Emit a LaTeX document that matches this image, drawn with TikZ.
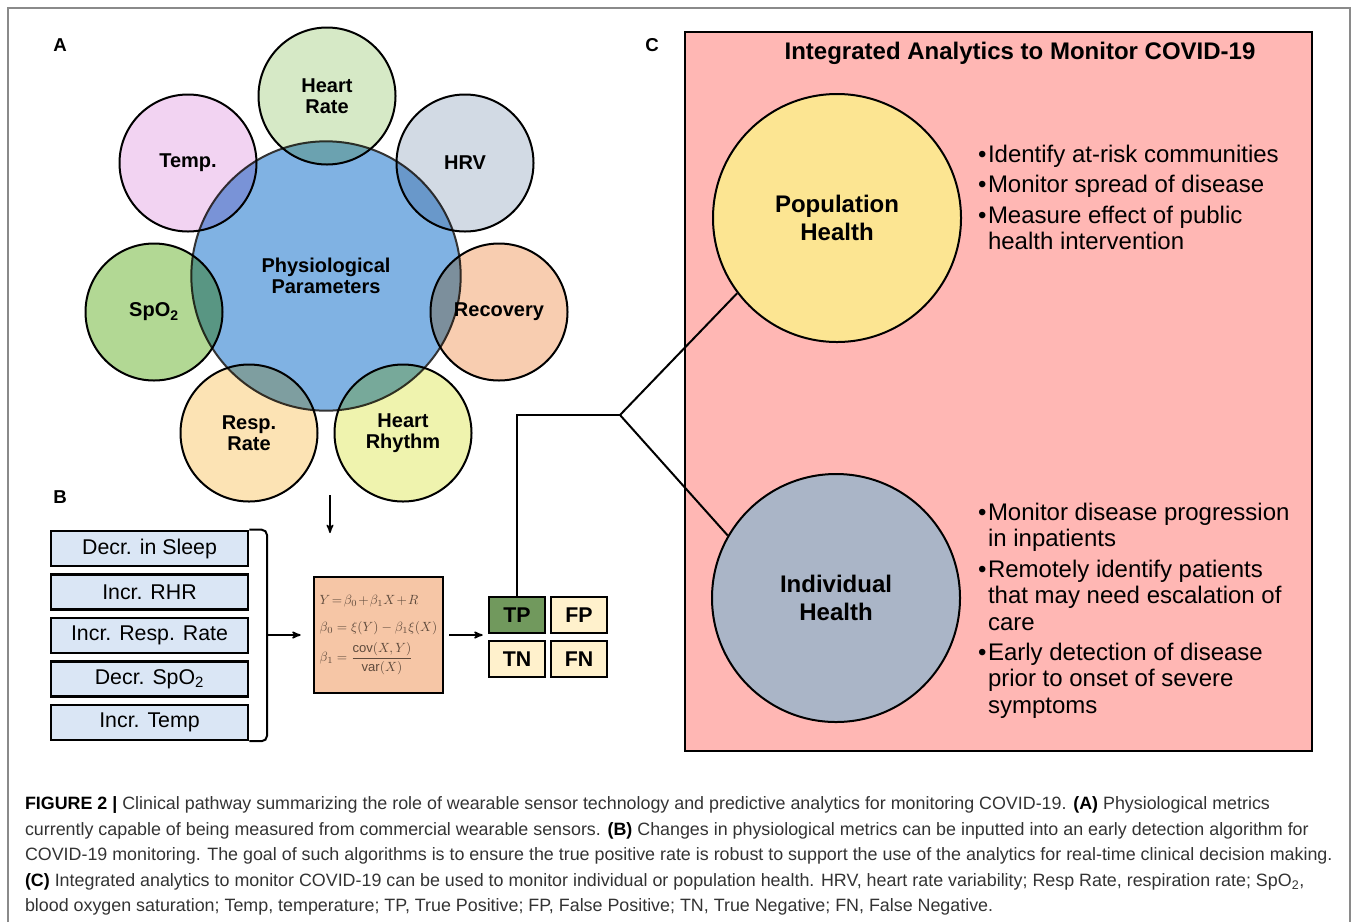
\documentclass[tikz,border=0pt]{standalone}
\usepackage{amsmath, amssymb}
\usepackage{fontspec}
\setmainfont{Liberation Sans}
\usetikzlibrary{arrows, positioning}

\definecolor{physblue}{HTML}{80B2E3}
\definecolor{hrgreen}{HTML}{D6E9C6}
\definecolor{temppink}{HTML}{F2D3F2}
\definecolor{hrvgray}{HTML}{D2DAE4}
\definecolor{spogreen}{HTML}{B2D894}
\definecolor{recpeach}{HTML}{F8CDB0}
\definecolor{respyellow}{HTML}{FCE3B4}
\definecolor{rhythmlime}{HTML}{EFF3AE}
\definecolor{boxblue}{HTML}{DAE6F5}
\definecolor{formpeach}{HTML}{F6C6A6}
\definecolor{formtext}{HTML}{5E4A3C}
\definecolor{tpgreen}{HTML}{71995D}
\definecolor{cream}{HTML}{FFF1CC}
\definecolor{panelpink}{HTML}{FFB7B4}
\definecolor{popyellow}{HTML}{FCE592}
\definecolor{indgray}{HTML}{AAB5C7}
\definecolor{captext}{HTML}{333333}
\definecolor{framegray}{HTML}{8A8A8A}

\newcommand{\bitem}{\makebox[7.5pt][l]{\textbullet}}
\newcommand{\bindent}{\hspace*{7.5pt}}

\begin{document}
\begin{tikzpicture}[x=0.75pt, y=-0.75pt, >=stealth', line width=1.5pt,
    param/.style ={circle, draw=black, minimum size=102.75pt, inner sep=0pt,
      align=center, font=\fontsize{15}{15.75}\selectfont\bfseries},
    metric/.style ={rectangle, draw=black, fill=boxblue, line width=2pt,
      minimum width=147.75pt, minimum height=26.25pt, inner sep=0pt,
      font=\fontsize{16}{16}\selectfont},
    outcome/.style ={rectangle, draw=black, line width=2pt, fill=cream,
      minimum width=42pt, minimum height=27pt, inner sep=0pt,
      font=\fontsize{16}{16}\selectfont\bfseries},
    health/.style ={circle, draw=black, minimum size=186pt, inner sep=0pt,
      align=center, font=\fontsize{18}{21}\selectfont\bfseries},
    bullets/.style ={anchor=north west, align=left, inner sep=0pt,
      font=\fontsize{18}{19.8}\selectfont},
    panel/.style ={font=\fontsize{14}{14}\selectfont\bfseries}]
    \useasboundingbox (0,0) rectangle (1358,922);
    \draw[framegray, line width=1.2pt] (8,922) -- (8,8) -- (1350,8) -- (1350,922);

    % A: physiological parameters
    \node[panel] (labA) at (60,45) {A};
    \node[circle, draw=black!80, fill=physblue, minimum size=202pt, align=center,
      font=\fontsize{15}{15.75}\selectfont\bfseries] (phys) at (326,276) {Physiological\\Parameters};
    \begin{scope}[blend mode=multiply]
    \node[param, fill=hrgreen] (hr) at (327,96) {Heart\\Rate};
    \node[param, fill=temppink] (temp) at (188,163) {Temp.};
    \node[param, fill=hrvgray] (hrv) at (465,163) {HRV};
    \node[param, fill=spogreen] (spo) at (154,312) {SpO\textsubscript{2}};
    \node[param, fill=recpeach] (rec) at (499,312) {Recovery};
    \node[param, fill=respyellow] (resp) at (249,433) {Resp.\\Rate};
    \node[param, fill=rhythmlime] (rhythm) at (403,433) {Heart\\Rhythm};
    \end{scope}

    % B: detection algorithm
    \node[panel] (labB) at (60,497) {B};
    \node[metric] (sleep) at (149.5,548.5) {Decr. in Sleep};
    \node[metric, below=4.35pt of sleep] (rhr) {Incr. RHR};
    \node[metric, below=4.35pt of rhr] (rr) {Incr. Resp. Rate};
    \node[metric, below=4.35pt of rr] (spodrop) {Decr. SpO\textsubscript{2}};
    \node[metric, below=4.35pt of spodrop] (temprise) {Incr. Temp};
    \coordinate (brmid) at (267,635);
    \draw[rounded corners=4pt] (sleep.north east) -| (brmid) |- (temprise.south east);

    \node[rectangle, draw=black, fill=formpeach, line width=2pt, minimum width=96.75pt,
      minimum height=87pt, inner sep=2pt, text=formtext, align=left,
      font=\fontsize{9.8}{12}\selectfont] (formula) at (378.5,635)
      {\medmuskip=1.5mu \thickmuskip=2mu
       $Y=\beta_0+\beta_1X+R$\\[8pt]
       $\beta_0=\xi(Y)-\beta_1\xi(X)$\\[5pt]
       $\beta_1=\dfrac{\mathrm{cov}(X,Y)}{\mathrm{var}(X)}$};
    \draw[->, line width=1.2pt, shorten >=9pt] (brmid) -- (formula.west);
    \coordinate (downtop) at (330,495);
    \coordinate (downbot) at (330,533);
    \draw[->, line width=1.2pt] (downtop) -- (downbot);

    \node[outcome, fill=tpgreen] (tp) at (517,615) {TP};
    \node[outcome, right=2.5pt of tp] (fp) {FP};
    \node[outcome, below=4pt of tp] (tn) {TN};
    \node[outcome, right=2.5pt of tn] (fn) {FN};
    \draw[->, line width=1.2pt, shorten <=3.75pt, shorten >=3.75pt]
      (formula.east) -- (formula.east -| tp.west);

    % C: integrated analytics
    \node[panel] (labC) at (652,45) {C};
    \draw[fill=panelpink, line width=1.5pt] (685,32) rectangle (1312,751);
    \node[font=\fontsize{18}{18}\selectfont\bfseries] (title) at (1020,53)
      {Integrated Analytics to Monitor COVID-19};
    \node[health, fill=popyellow] (pop) at (837,218) {Population\\Health};
    \node[health, fill=indgray] (ind) at (836,598) {Individual\\Health};
    \node[bullets] (poplist) at (977,144)
      {\bitem Identify at-risk communities\\[3pt]
       \bitem Monitor spread of disease\\[3pt]
       \bitem Measure effect of public\\
       \bindent health intervention};
    \node[bullets] (indlist) at (977,502)
      {\bitem Monitor disease progression\\
       \bindent in inpatients\\[3pt]
       \bitem Remotely identify patients\\
       \bindent that may need escalation of\\
       \bindent care\\[3pt]
       \bitem Early detection of disease\\
       \bindent prior to onset of severe\\
       \bindent symptoms};

    \coordinate (junction) at (620,415);
    \draw (tp.north) |- (junction);
    \draw (junction) -- (pop.217);
    \draw (junction) -- (ind.150);

    % caption
    \node[anchor=north west, align=left, inner sep=0pt, text=captext,
      font=\fontsize{13.4}{19.1}\selectfont] (caption) at (24,796)
      {\textbf{\color{black}FIGURE 2 |} Clinical pathway summarizing the role of wearable sensor technology and predictive analytics for monitoring COVID-19. \textbf{\color{black}(A)} Physiological metrics\\
       currently capable of being measured from commercial wearable sensors. \textbf{\color{black}(B)} Changes in physiological metrics can be inputted into an early detection algorithm for\\
       COVID-19 monitoring. The goal of such algorithms is to ensure the true positive rate is robust to support the use of the analytics for real-time clinical decision making.\\
       \textbf{\color{black}(C)} Integrated analytics to monitor COVID-19 can be used to monitor individual or population health. HRV, heart rate variability; Resp Rate, respiration rate; SpO\textsubscript{2},\\
       blood oxygen saturation; Temp, temperature; TP, True Positive; FP, False Positive; TN, True Negative; FN, False Negative.};
\end{tikzpicture}
\end{document}
